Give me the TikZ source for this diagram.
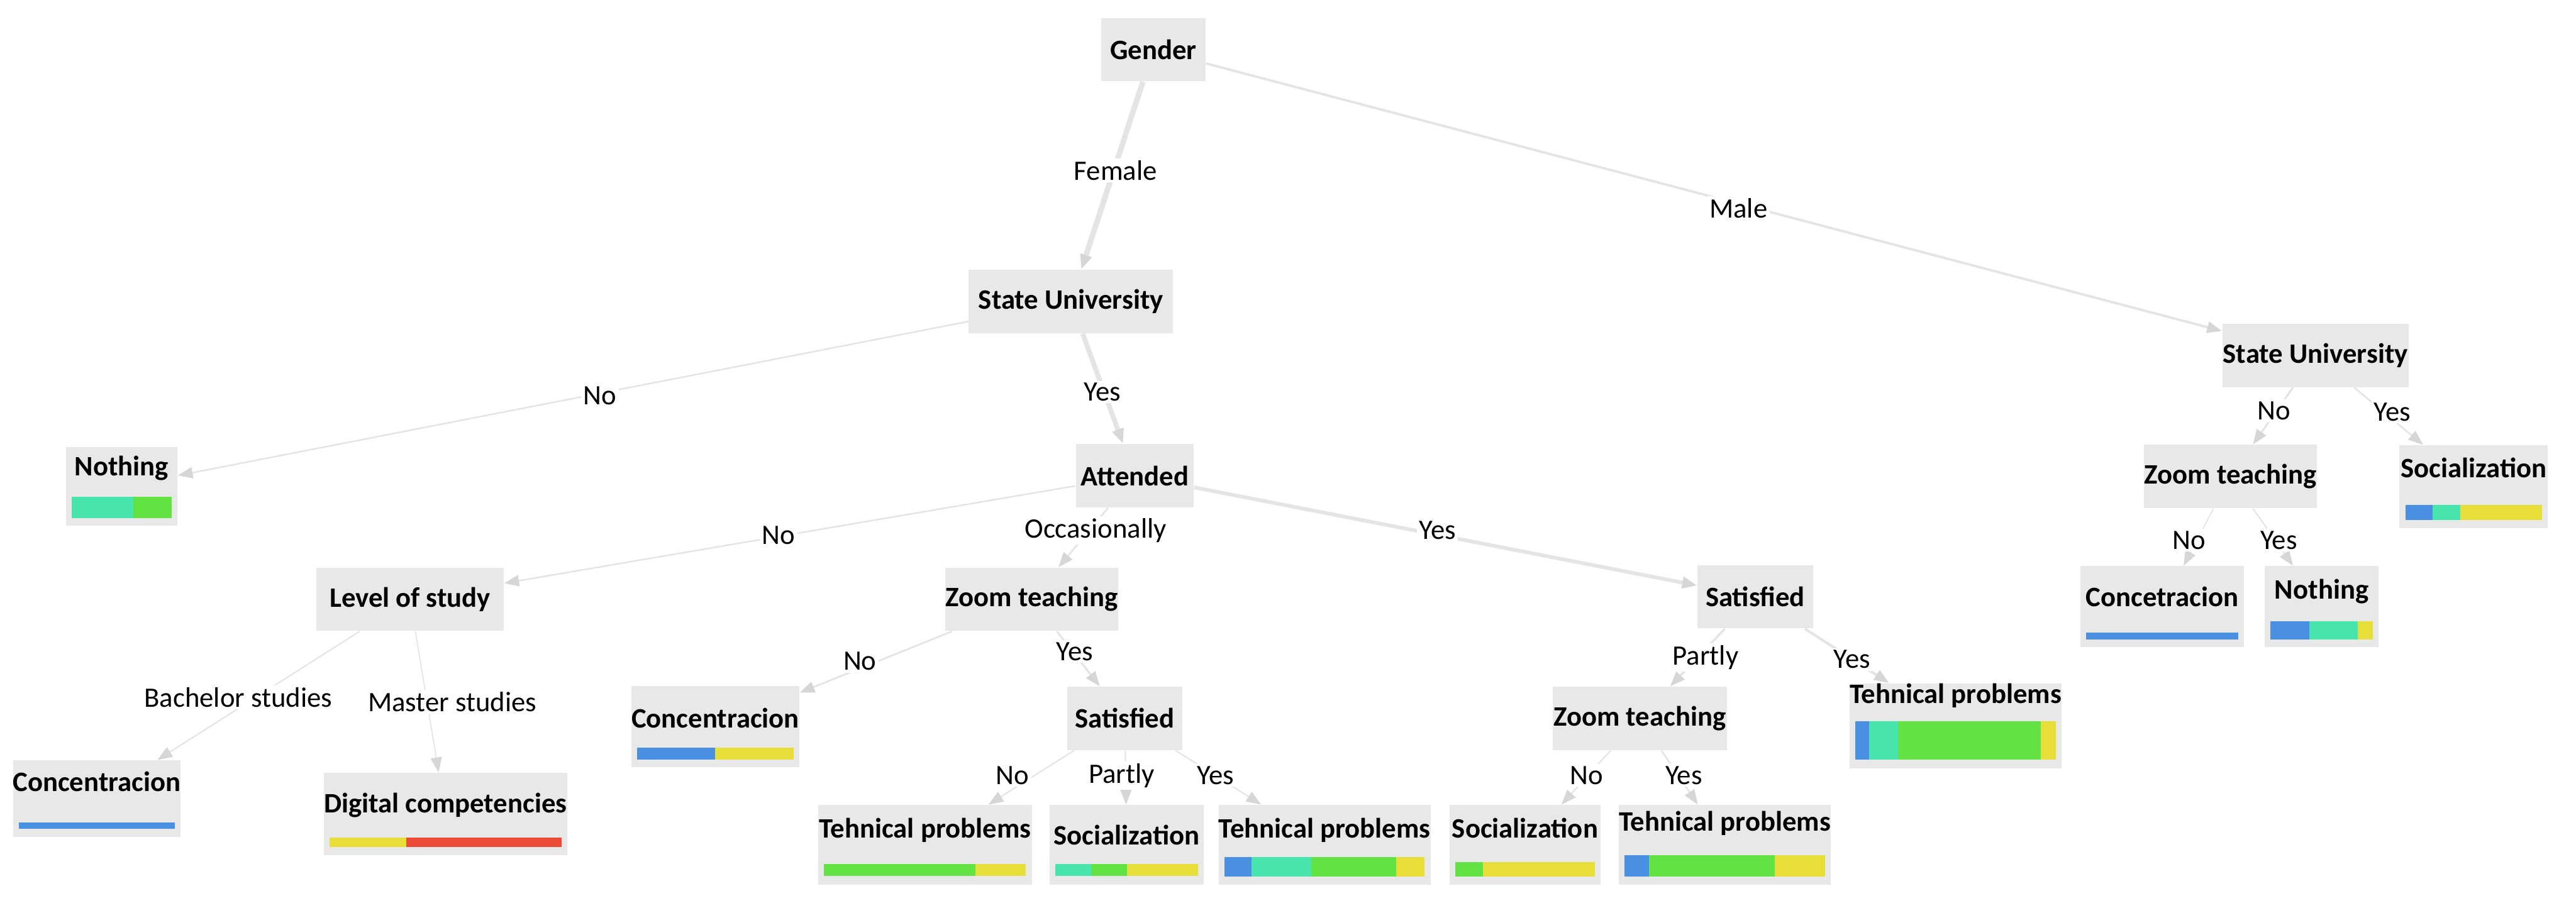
\documentclass[tikz,border=0pt]{standalone}
\usepackage{fontspec}
\setmainfont{Carlito}
\usetikzlibrary{arrows.meta, positioning, calc}
\definecolor{nodegray}{RGB}{232,232,232}
\definecolor{linkgray}{RGB}{228,228,228}
\definecolor{tipgray}{RGB}{214,214,214}
\definecolor{clsblue}{RGB}{74,144,226}
\definecolor{clsteal}{RGB}{72,228,174}
\definecolor{clsgreen}{RGB}{99,226,68}
\definecolor{clsyellow}{RGB}{232,222,58}
\definecolor{clsred}{RGB}{234,76,54}

% class distribution bar at the foot of a leaf: node, thickness, lift, colour/share list
\newcommand{\distbar}[4]{%
  \coordinate (#1-bl) at ($(#1.south west)+(0.1,#3)$);
  \coordinate (#1-br) at ($(#1.south east)+(-0.1,#3)$);
  \gdef\barpos{0}%
  \foreach \col/\share in {#4}{%
    \pgfmathsetmacro\barnext{\barpos+\share}%
    \fill[\col] ($(#1-bl)!\barpos!(#1-br)$) rectangle ($(#1-bl)!\barnext!(#1-br)+(0,#2)$);
    \xdef\barpos{\barnext}%
  }%
}

\begin{document}
\begin{tikzpicture}[
    every node/.style={font=\fontsize{12.8}{15}\selectfont},
    split/.style={fill=nodegray, inner sep=0pt, minimum width=#1, minimum height=1.02cm,
                  font=\fontsize{12.9}{15}\selectfont\bfseries},
    leaf/.style n args={3}{fill=nodegray, inner sep=0pt, anchor=north, minimum width=#1,
                  text height=#2, text depth=#3, font=\fontsize{12.9}{15}\selectfont\bfseries},
    lbl/.style={fill=white, inner sep=1pt, font=\fontsize{12.9}{15}\selectfont},
    link/.style={draw=linkgray, line width=#1,
                 -{Triangle[length=0.24cm, width=0.18cm, color=tipgray]}},
  ]
    \fill[white] (0,0) rectangle (41.52,-14.63);
    \useasboundingbox (0,0) rectangle (41.52,-14.63);

    % split nodes
    \node[split=1.68cm] (gender)   at (18.59,-0.80) {Gender};
    \node[split=3.29cm] (uniF)     at (17.26,-4.86) {State University};
    \node[split=1.90cm] (attended) at (18.29,-7.67) {Attended};
    \node[split=3.02cm] (level)    at (6.61,-9.66)  {Level of study};
    \node[split=2.78cm] (zoomA)    at (16.63,-9.66) {Zoom teaching};
    \node[split=1.86cm] (satB)     at (28.29,-9.62) {Satisfied};
    \node[split=1.86cm] (satA)     at (18.13,-11.58) {Satisfied};
    \node[split=2.81cm] (zoomB)    at (26.43,-11.58) {Zoom teaching};
    \node[split=3.00cm] (uniM)     at (37.32,-5.73) {State University};
    \node[split=2.79cm] (zoomM)    at (35.95,-7.68) {Zoom teaching};

    % leaves
    \node[leaf={1.80cm}{0.46cm}{0.81cm}] (nothF)   at (1.96,-7.20)   {Nothing};
    \node[leaf={2.60cm}{0.50cm}{0.73cm}] (concF)   at (1.56,-12.25)  {Concentracion};
    \node[leaf={3.92cm}{0.64cm}{0.69cm}] (digital) at (7.18,-12.45)  {Digital competencies};
    \node[leaf={2.66cm}{0.68cm}{0.63cm}] (concA)   at (11.53,-11.05) {Concentracion};
    \node[leaf={3.44cm}{0.53cm}{0.75cm}] (techA)   at (14.91,-12.97) {Tehnical problems};
    \node[leaf={2.48cm}{0.64cm}{0.64cm}] (socA)    at (18.16,-12.97) {Socialization};
    \node[leaf={3.26cm}{0.53cm}{0.75cm}] (techB)   at (21.35,-12.97) {Tehnical problems};
    \node[leaf={2.44cm}{0.53cm}{0.75cm}] (socB)    at (24.58,-12.97) {Socialization};
    \node[leaf={3.39cm}{0.42cm}{0.86cm}] (techC)   at (27.80,-12.97) {Tehnical problems};
    \node[leaf={3.40cm}{0.32cm}{1.05cm}] (techD)   at (31.52,-11.01) {Tehnical problems};
    \node[leaf={2.39cm}{0.52cm}{0.82cm}] (socM)    at (39.87,-7.17)  {Socialization};
    \node[leaf={2.64cm}{0.65cm}{0.65cm}] (concM)   at (34.85,-9.12)  {Concetracion};
    \node[leaf={1.84cm}{0.53cm}{0.77cm}] (nothM)   at (37.42,-9.12)  {Nothing};

    \distbar{nothF}{0.35}{0.13}{clsteal/0.62,clsgreen/0.38}
    \distbar{concF}{0.105}{0.135}{clsblue/1}
    \distbar{digital}{0.15}{0.14}{clsyellow/0.33,clsred/0.67}
    \distbar{concA}{0.19}{0.13}{clsblue/0.5,clsyellow/0.5}
    \distbar{techA}{0.20}{0.14}{clsgreen/0.75,clsyellow/0.25}
    \distbar{socA}{0.20}{0.14}{clsteal/0.25,clsgreen/0.25,clsyellow/0.5}
    \distbar{techB}{0.32}{0.13}{clsblue/0.136,clsteal/0.297,clsgreen/0.425,clsyellow/0.142}
    \distbar{socB}{0.24}{0.13}{clsgreen/0.2,clsyellow/0.8}
    \distbar{techC}{0.35}{0.13}{clsblue/0.121,clsgreen/0.628,clsyellow/0.251}
    \distbar{techD}{0.62}{0.15}{clsblue/0.068,clsteal/0.145,clsgreen/0.714,clsyellow/0.073}
    \distbar{socM}{0.24}{0.14}{clsblue/0.2,clsteal/0.2,clsyellow/0.6}
    \distbar{concM}{0.11}{0.13}{clsblue/1}
    \distbar{nothM}{0.29}{0.13}{clsblue/0.383,clsteal/0.467,clsyellow/0.15}

    % links, width by share of cases
    \draw[link=2.5pt] (gender) -- (uniF);
    \draw[link=1.1pt] (gender) -- (uniM);
    \draw[link=0.7pt] (uniF) -- (nothF);
    \draw[link=2.2pt] (uniF) -- (attended);
    \draw[link=0.7pt] (attended) -- (level);
    \draw[link=0.8pt] (attended) -- (zoomA);
    \draw[link=1.7pt] (attended) -- (satB);
    \draw[link=0.6pt] (level) -- (concF);
    \draw[link=0.5pt] (level) -- (digital);
    \draw[link=0.8pt] (zoomA) -- (concA);
    \draw[link=0.9pt] (zoomA) -- (satA);
    \draw[link=0.6pt] (satA) -- (techA);
    \draw[link=0.6pt] (satA) -- (socA);
    \draw[link=0.6pt] (satA) -- (techB);
    \draw[link=1.0pt] (satB) -- (zoomB);
    \draw[link=1.2pt] (satB) -- (techD);
    \draw[link=0.6pt] (zoomB) -- (socB);
    \draw[link=0.7pt] (zoomB) -- (techC);
    \draw[link=0.9pt] (uniM) -- (zoomM);
    \draw[link=0.7pt] (uniM) -- (socM);
    \draw[link=0.5pt] (zoomM) -- (concM);
    \draw[link=0.6pt] (zoomM) -- (nothM);

    % link labels
    \node[lbl] (lFemale)   at (17.98,-2.75)  {Female};
    \node[lbl] (lMale)     at (28.02,-3.36)  {Male};
    \node[lbl] (lNoF)      at (9.67,-6.38)   {No};
    \node[lbl] (lYesF)     at (17.77,-6.32)  {Yes};
    \node[lbl] (lNoAtt)    at (12.55,-8.63)  {No};
    \node[lbl] (lOccAtt)   at (17.66,-8.55)  {Occasionally};
    \node[lbl] (lYesAtt)   at (23.17,-8.55)  {Yes};
    \node[lbl] (lBachelor) at (3.84,-11.24)  {Bachelor studies};
    \node[lbl] (lMaster)   at (7.29,-11.31)  {Master studies};
    \node[lbl] (lNoZA)     at (13.86,-10.66) {No};
    \node[lbl] (lYesZA)    at (17.32,-10.50) {Yes};
    \node[lbl] (lNoSA)     at (16.32,-12.50) {No};
    \node[lbl] (lPartSA)   at (18.08,-12.50) {Partly};
    \node[lbl] (lYesSA)    at (19.59,-12.50) {Yes};
    \node[lbl] (lPartSB)   at (27.49,-10.60) {Partly};
    \node[lbl] (lYesSB)    at (29.85,-10.63) {Yes};
    \node[lbl] (lNoZB)     at (25.57,-12.50) {No};
    \node[lbl] (lYesZB)    at (27.14,-12.50) {Yes};
    \node[lbl] (lNoM)      at (36.65,-6.62)  {No};
    \node[lbl] (lYesM)     at (38.56,-6.64)  {Yes};
    \node[lbl] (lNoZM)     at (35.28,-8.71)  {No};
    \node[lbl] (lYesZM)    at (36.73,-8.71)  {Yes};
\end{tikzpicture}
\end{document}
